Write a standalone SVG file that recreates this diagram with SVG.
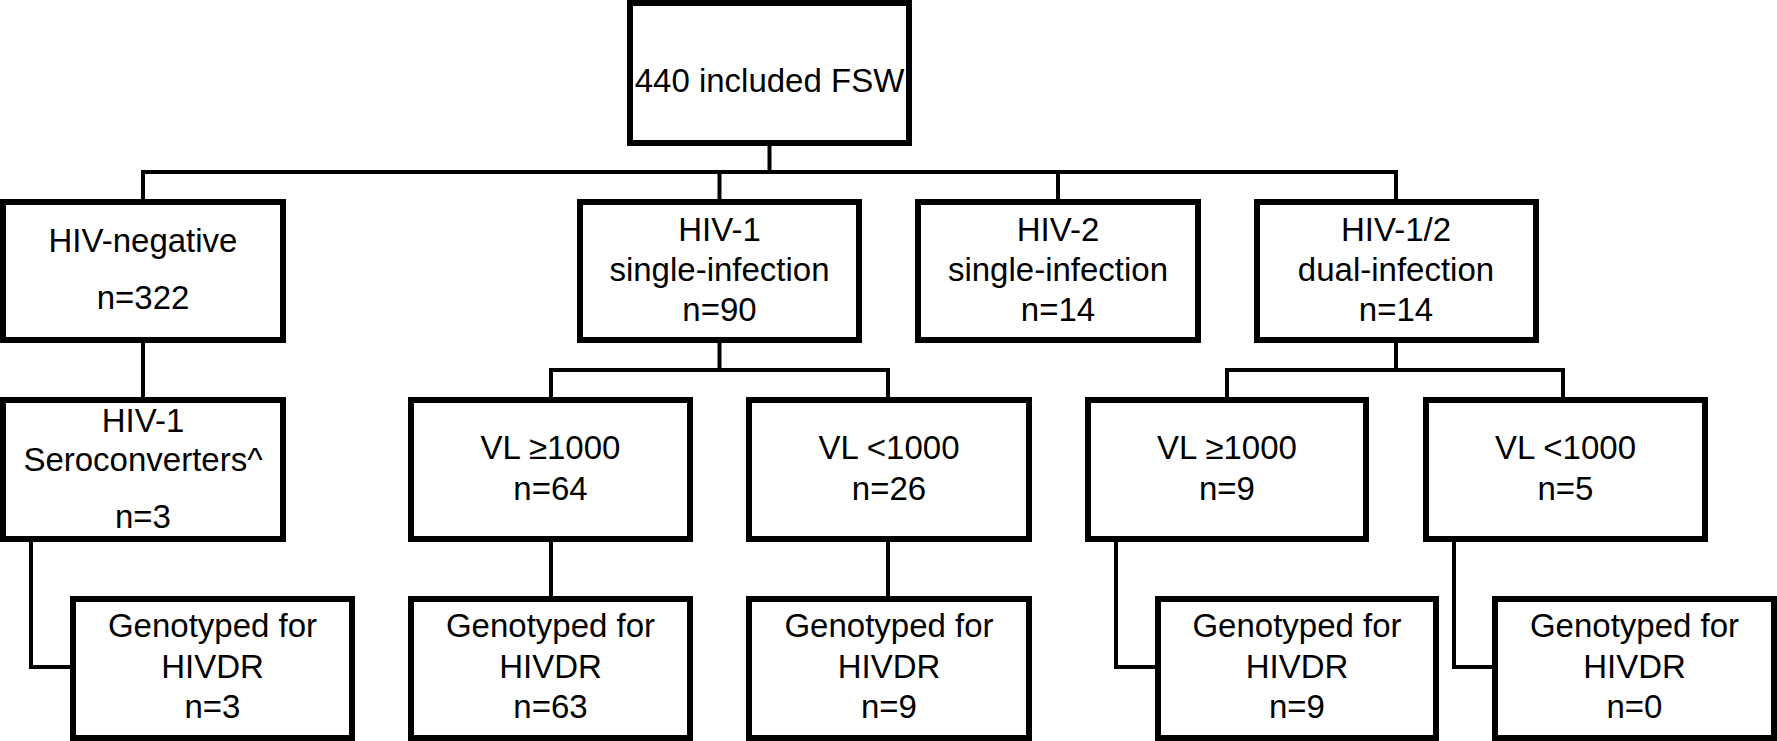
<svg xmlns="http://www.w3.org/2000/svg" width="1777" height="741" viewBox="0 0 1777 741">
<style>
.box{fill:#fff;stroke:#000;stroke-width:6}
.lbl{font-family:"Liberation Sans",Arial,sans-serif;font-size:33px;fill:#000;text-anchor:middle}
.con{fill:none;stroke:#000;stroke-width:4;stroke-linejoin:miter}
</style>
<rect width="1777" height="741" fill="#fff"/>
<g id="connectors">
<path class="con" d="M769.5 146 V172"/>
<path class="con" d="M143 199 V172 H1396 V199"/>
<path class="con" d="M719.5 172 V199"/>
<path class="con" d="M1058 172 V199"/>
<path class="con" d="M143 343 V397"/>
<path class="con" d="M719.5 343 V370"/>
<path class="con" d="M551 397 V370 H888 V397"/>
<path class="con" d="M1396 343 V370"/>
<path class="con" d="M1227 397 V370 H1563 V397"/>
<path class="con" d="M551 542 V596"/>
<path class="con" d="M888 542 V596"/>
<path class="con" d="M31 542 V667 H70"/>
<path class="con" d="M1116 542 V667 H1155"/>
<path class="con" d="M1454 542 V667 H1492"/>
</g>
<g id="n_total">
<rect class="box" x="630" y="3" width="279" height="140"/>
<text class="lbl" x="769.5" y="92">440 included FSW</text>
</g>
<g id="n_neg">
<rect class="box" x="3" y="202" width="280" height="138"/>
<text class="lbl" x="143" y="252">HIV-negative</text>
<text class="lbl" x="143" y="309">n=322</text>
</g>
<g id="n_hiv1">
<rect class="box" x="580" y="202" width="279" height="138"/>
<text class="lbl" x="719.5" y="241">HIV-1</text>
<text class="lbl" x="719.5" y="281">single-infection</text>
<text class="lbl" x="719.5" y="321">n=90</text>
</g>
<g id="n_hiv2">
<rect class="box" x="918" y="202" width="280" height="138"/>
<text class="lbl" x="1058" y="241">HIV-2</text>
<text class="lbl" x="1058" y="281">single-infection</text>
<text class="lbl" x="1058" y="321">n=14</text>
</g>
<g id="n_dual">
<rect class="box" x="1257" y="202" width="279" height="138"/>
<text class="lbl" x="1396" y="241">HIV-1/2</text>
<text class="lbl" x="1396" y="281">dual-infection</text>
<text class="lbl" x="1396" y="321">n=14</text>
</g>
<g id="n_sero">
<rect class="box" x="3" y="400" width="280" height="139"/>
<text class="lbl" x="143" y="432">HIV-1</text>
<text class="lbl" x="143" y="471">Seroconverters^</text>
<text class="lbl" x="143" y="528">n=3</text>
</g>
<g id="n_vl1hi">
<rect class="box" x="411" y="400" width="279" height="139"/>
<text class="lbl" x="550.5" y="459">VL ≥1000</text>
<text class="lbl" x="550.5" y="500">n=64</text>
</g>
<g id="n_vl1lo">
<rect class="box" x="749" y="400" width="280" height="139"/>
<text class="lbl" x="889" y="459">VL &lt;1000</text>
<text class="lbl" x="889" y="500">n=26</text>
</g>
<g id="n_vl2hi">
<rect class="box" x="1088" y="400" width="278" height="139"/>
<text class="lbl" x="1227" y="459">VL ≥1000</text>
<text class="lbl" x="1227" y="500">n=9</text>
</g>
<g id="n_vl2lo">
<rect class="box" x="1426" y="400" width="279" height="139"/>
<text class="lbl" x="1565.5" y="459">VL &lt;1000</text>
<text class="lbl" x="1565.5" y="500">n=5</text>
</g>
<g id="n_g_sero">
<rect class="box" x="73" y="599" width="279" height="139"/>
<text class="lbl" x="212.5" y="637">Genotyped for</text>
<text class="lbl" x="212.5" y="678">HIVDR</text>
<text class="lbl" x="212.5" y="718">n=3</text>
</g>
<g id="n_g_vl1hi">
<rect class="box" x="411" y="599" width="279" height="139"/>
<text class="lbl" x="550.5" y="637">Genotyped for</text>
<text class="lbl" x="550.5" y="678">HIVDR</text>
<text class="lbl" x="550.5" y="718">n=63</text>
</g>
<g id="n_g_vl1lo">
<rect class="box" x="749" y="599" width="280" height="139"/>
<text class="lbl" x="889" y="637">Genotyped for</text>
<text class="lbl" x="889" y="678">HIVDR</text>
<text class="lbl" x="889" y="718">n=9</text>
</g>
<g id="n_g_vl2hi">
<rect class="box" x="1158" y="599" width="278" height="139"/>
<text class="lbl" x="1297" y="637">Genotyped for</text>
<text class="lbl" x="1297" y="678">HIVDR</text>
<text class="lbl" x="1297" y="718">n=9</text>
</g>
<g id="n_g_vl2lo">
<rect class="box" x="1495" y="599" width="279" height="139"/>
<text class="lbl" x="1634.5" y="637">Genotyped for</text>
<text class="lbl" x="1634.5" y="678">HIVDR</text>
<text class="lbl" x="1634.5" y="718">n=0</text>
</g>
</svg>
